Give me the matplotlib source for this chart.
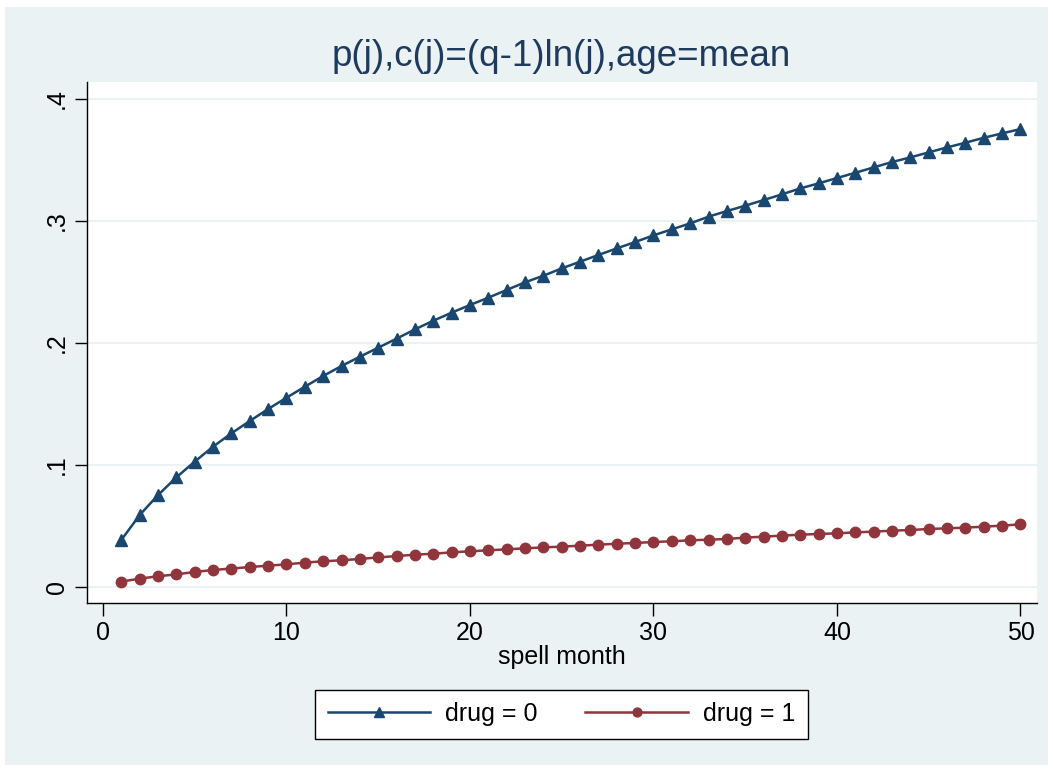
import matplotlib
matplotlib.use("Agg")
import matplotlib.pyplot as plt
from matplotlib.patches import Rectangle

plt.rcParams['font.family'] = ['Liberation Sans', 'DejaVu Sans']

months = list(range(1, 51))
drug0 = [0.0383, 0.0587, 0.0751, 0.0896, 0.1025, 0.1148, 0.1257, 0.1358, 0.1456, 0.1549,
         0.1639, 0.1727, 0.1809, 0.1885, 0.1959, 0.2033, 0.2109, 0.2180, 0.2246, 0.2309,
         0.2369, 0.2432, 0.2495, 0.2549, 0.2609, 0.2664, 0.2719, 0.2773, 0.2825, 0.2880,
         0.2929, 0.2978, 0.3033, 0.3079, 0.3123, 0.3169, 0.3216, 0.3265, 0.3306, 0.3350,
         0.3393, 0.3437, 0.3481, 0.3519, 0.3560, 0.3601, 0.3639, 0.3680, 0.3716, 0.3751]
drug1 = [0.0041, 0.0066, 0.0085, 0.0101, 0.0120, 0.0137, 0.0148, 0.0161, 0.0172, 0.0183,
         0.0197, 0.0208, 0.0216, 0.0227, 0.0240, 0.0251, 0.0262, 0.0270, 0.0281, 0.0290,
         0.0298, 0.0306, 0.0314, 0.0322, 0.0328, 0.0336, 0.0344, 0.0352, 0.0358, 0.0366,
         0.0372, 0.0380, 0.0385, 0.0391, 0.0402, 0.0410, 0.0418, 0.0426, 0.0432, 0.0437,
         0.0445, 0.0451, 0.0459, 0.0464, 0.0473, 0.0478, 0.0484, 0.0492, 0.0500, 0.0511]
xticks = [0, 10, 20, 30, 40, 50]
yticks = [0, 0.1, 0.2, 0.3, 0.4]
ytick_labels = ["0", ".1", ".2", ".3", ".4"]
title = "p(j),c(j)=(q-1)ln(j),age=mean"
xlabel = "spell month"
labels = ["drug = 0", "drug = 1"]

W, H = 1053, 772
fig = plt.figure(figsize=(W / 100, H / 100), dpi=100, facecolor="white")
bg = "#EAF2F3"
fig.patches.append(Rectangle((5 / W, 1 - 765 / H), (1048 - 5) / W, (765 - 7) / H,
                             transform=fig.transFigure, facecolor=bg, edgecolor="none", zorder=-10))

ax = fig.add_axes([87 / W, 1 - 603 / H, (1037 - 87) / W, (603 - 82) / H])
ax.set_facecolor("white")
navy = "#1A476F"
maroon = "#90353B"
l0, = ax.plot(months, drug0, color=navy, lw=1.8, marker="^", ms=9, mec=navy, mfc=navy, zorder=3)
l1, = ax.plot(months, drug1, color=maroon, lw=1.8, marker="o", ms=7.5, mec=maroon, mfc=maroon, zorder=3)

ax.set_xlim(-0.87, 50.9)
ax.set_ylim(-0.0134, 0.4137)
ax.set_xticks(xticks)
ax.set_yticks(yticks)
ax.set_yticklabels(ytick_labels, rotation=90, va="center")
ax.grid(axis="y", color=bg, lw=1.5)
ax.set_axisbelow(True)
for s in ["top", "right"]:
    ax.spines[s].set_visible(False)
for s in ["left", "bottom"]:
    ax.spines[s].set_color("black")
    ax.spines[s].set_linewidth(1.0)
ax.tick_params(axis="both", labelsize=18, length=9, width=1.0, colors="black", pad=4)
ax.set_xlabel(xlabel, fontsize=18, labelpad=0)

fig.text(561 / W, 1 - 57 / H, title, ha="center", va="center", fontsize=26.5, color="#1E3A5C")

leg = fig.legend([l0, l1], labels, loc="center", bbox_to_anchor=(561.5 / W, 1 - 714 / H),
                 ncol=2, fontsize=18, frameon=True, fancybox=False, edgecolor="black",
                 handlelength=4.1, columnspacing=1.9, handletextpad=0.6, borderpad=0.5,
                 markerscale=0.85, borderaxespad=0)
leg.get_frame().set_linewidth(1.0)
leg.get_frame().set_facecolor("white")
leg.get_frame().set_alpha(1.0)

fig.savefig("out.png", dpi=100, facecolor="white")
